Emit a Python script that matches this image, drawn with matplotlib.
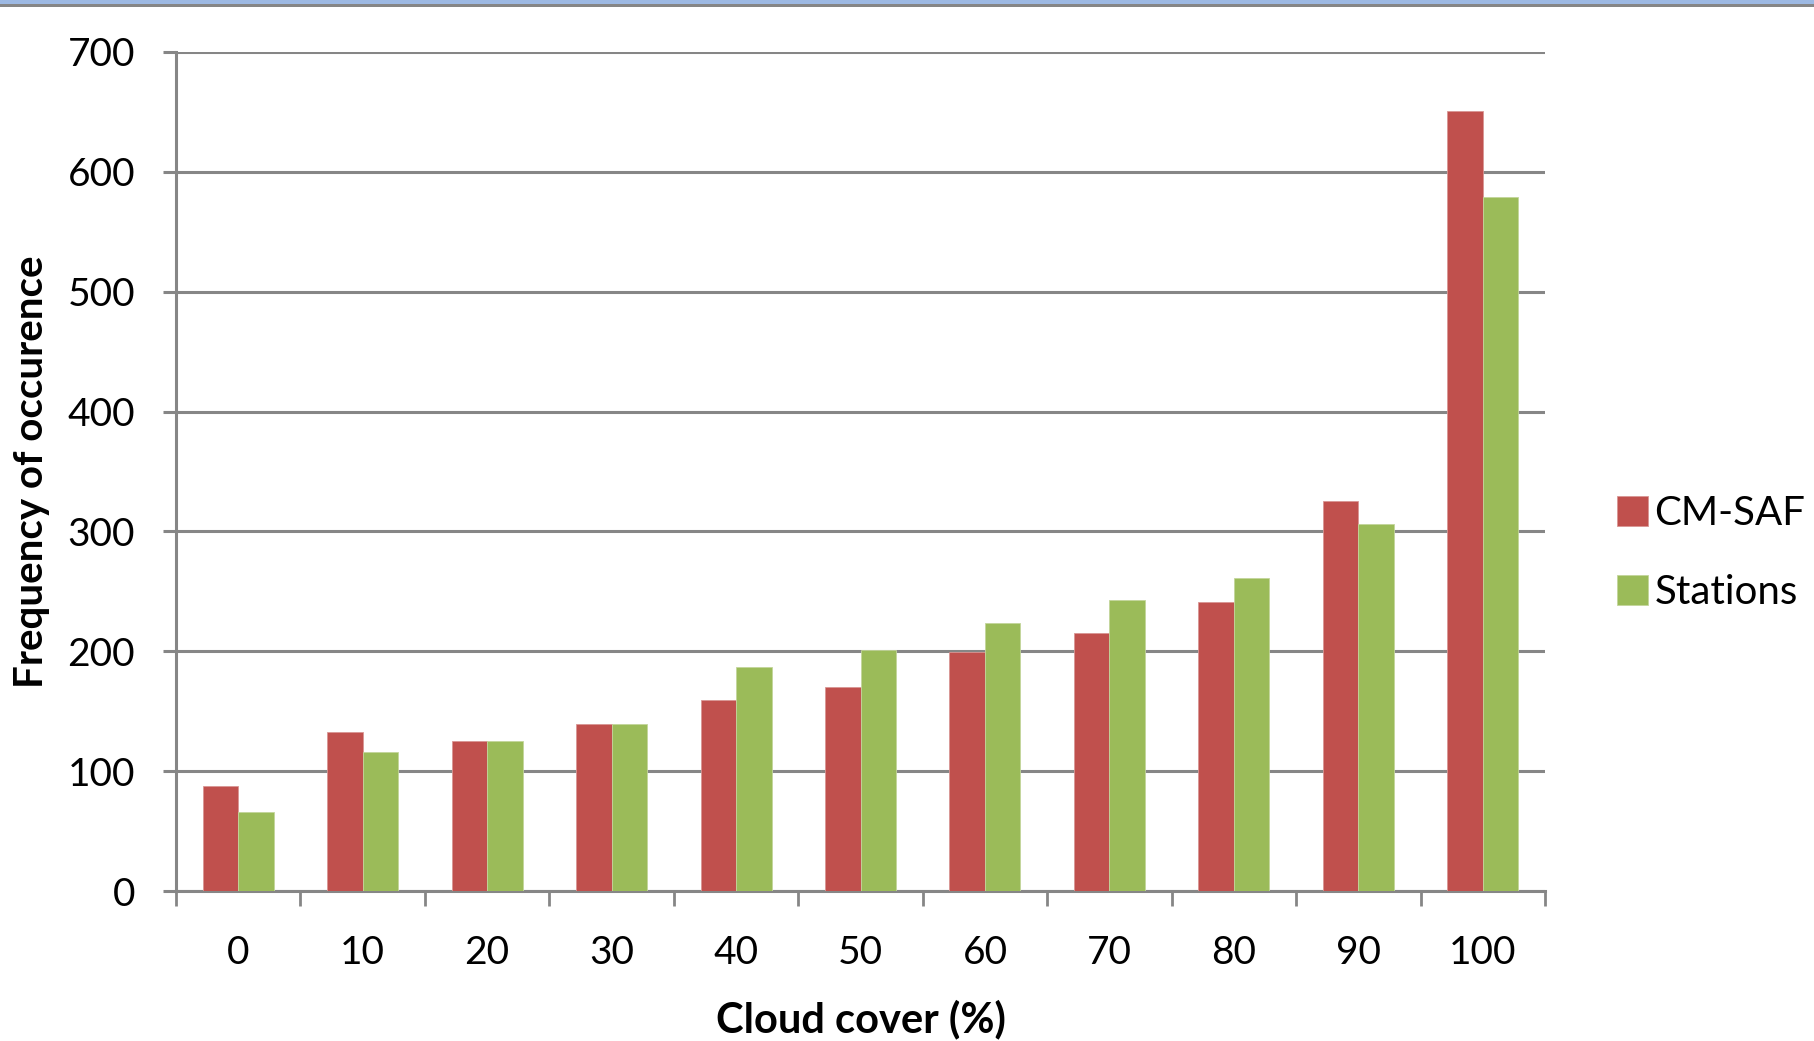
import matplotlib
matplotlib.use("Agg")
import matplotlib.pyplot as plt
import numpy as np
from matplotlib.patches import Rectangle

# cloud cover classes and occurrence counts
cloud_cover = ["0", "10", "20", "30", "40", "50", "60", "70", "80", "90", "100"]
cmsaf = [88, 133, 125, 139, 159, 170, 199, 215, 241, 325, 651]
stations = [66, 116, 125, 139, 187, 201, 224, 243, 261, 306, 579]
y_ticks = [0, 100, 200, 300, 400, 500, 600, 700]

RED = "#C0504D"
GREEN = "#9BBB59"
GRID = "#868686"

plt.rcParams["font.family"] = ["Lato", "DejaVu Sans"]

W, H = 1814, 1041
fig = plt.figure(figsize=(W / 100, H / 100), dpi=100)
fig.patch.set_facecolor("white")

# thin window-style band across the top
fig.patches.append(Rectangle((0, 1 - 4 / H), 1, 4 / H, transform=fig.transFigure,
                             facecolor="#9DB9E3", edgecolor="none"))
fig.patches.append(Rectangle((0, 1 - 7 / H), 1, 3 / H, transform=fig.transFigure,
                             facecolor=GRID, edgecolor="none"))

left, right, top, bottom = 176, 1545, 52, 891
ax = fig.add_axes([left / W, 1 - bottom / H, (right - left) / W, (bottom - top) / H])

x = np.arange(len(cloud_cover))
bw = 0.285
ax.bar(x - bw / 2, cmsaf, bw, color=RED, edgecolor="#D99694", linewidth=0.6,
       label="CM-SAF", zorder=3)
ax.bar(x + bw / 2, stations, bw, color=GREEN, edgecolor="#C3D69B", linewidth=0.6,
       label="Stations", zorder=3)

ax.set_xlim(-0.5, len(cloud_cover) - 0.5)
ax.set_ylim(0, 700)
ax.set_yticks(y_ticks)
ax.set_yticklabels([str(v) for v in y_ticks], fontsize=28)
ax.set_xticks(x)
ax.set_xticklabels(cloud_cover, fontsize=28)
ax.set_xticks(np.arange(-0.5, len(cloud_cover)), minor=True)

ax.yaxis.grid(True, color=GRID, linewidth=2.2, zorder=0)
ax.tick_params(axis="x", which="major", length=0, pad=32)
ax.tick_params(axis="x", which="minor", length=11, width=2, color=GRID)
ax.tick_params(axis="y", length=9.4, width=2.2, color=GRID, pad=20)

for s in ["top", "right"]:
    ax.spines[s].set_visible(False)
for s in ["left", "bottom"]:
    ax.spines[s].set_color(GRID)
    ax.spines[s].set_linewidth(2.2)

ax.set_xlabel("Cloud cover (%)", fontsize=30, fontweight="bold")
ax.set_ylabel("Frequency of occurence", fontsize=29, fontweight="bold")
ax.xaxis.set_label_coords(0.5, -0.129)
ax.yaxis.set_label_coords(-0.092, 0.5)

ax.legend(loc="center left", bbox_to_anchor=(1617 / W, 1 - 553 / H),
          bbox_transform=fig.transFigure, frameon=False, fontsize=29,
          handlelength=0.77, handleheight=0.77, handletextpad=0.16,
          labelspacing=1.05, borderpad=0, borderaxespad=0)

fig.savefig("out.png", dpi=100, facecolor="white")
